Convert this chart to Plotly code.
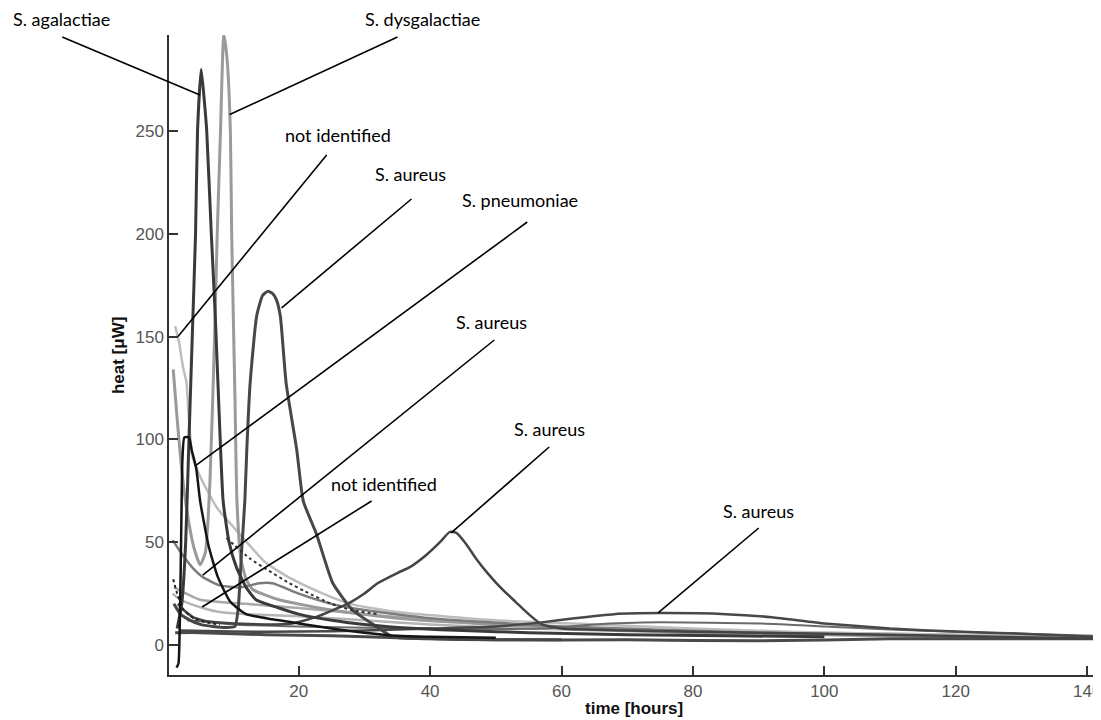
import plotly.graph_objects as go

# ---------------- data ----------------
agal_x = [1.5, 2.2, 2.8, 3.3, 3.8, 4.3, 4.6, 5.15, 5.6, 6.0, 6.7, 7.3, 7.9, 8.5, 9.4, 10.5, 12, 13.5, 17, 20, 25, 30, 38, 45, 55, 70, 85, 100]
agal_y = [8, 20, 50, 100, 150, 200, 250, 280, 266, 250, 200, 160, 112, 70, 50, 38, 28, 22, 18, 15, 12, 10, 8, 7, 6, 5, 4.5, 4]

dysg_x = [0.9, 1.5, 2.2, 3.0, 4.0, 5.0, 5.8, 6.5, 7.2, 7.6, 8.1, 8.6, 9.1, 9.6, 9.8, 10.3, 10.6, 11.2, 12, 13, 17, 25, 35, 50, 65, 80, 100, 120, 141]
dysg_y = [134, 110, 85, 65, 48, 39, 45, 80, 150, 200, 250, 297, 285, 250, 200, 120, 70, 42, 32, 27, 22, 17, 13, 10, 8, 6, 5, 4, 3.5]

nid1_x = [1.2, 1.8, 2.4, 2.9, 3.3, 3.8, 5.0, 7.5, 11, 15, 19, 23.7, 27.8, 35, 50, 65, 80, 100, 120, 141]
nid1_y = [155, 147, 135, 128, 110, 92, 82, 67, 54, 40, 32, 25, 20, 16, 12, 10, 8, 6, 5, 3.5]

aur1_x = [1.0, 2, 3.5, 5, 7, 9, 10.3, 10.8, 11.3, 11.8, 12.1, 12.6, 13.6, 14.5, 15.3, 16.0, 16.6, 17.2, 18.1, 19.7, 20.7, 22.7, 25.2, 28.2, 31.8, 34.3, 40, 50, 60]
aur1_y = [20, 15, 12, 10, 9, 8.5, 9, 18, 45, 70, 95, 127, 160, 170, 172, 171, 168, 160, 127, 95, 70, 54, 30, 17, 9, 4, 3, 2.5, 2.5]

pneu_x = [1.4, 1.7, 1.9, 2.1, 2.3, 2.6, 3.3, 3.7, 4.4, 5.0, 6.3, 7.7, 9.6, 12, 16, 20, 25, 30, 35, 40, 50]
pneu_y = [-11, -9, 10, 50, 90, 101, 101, 95, 86, 70, 48, 33, 21, 15, 12.5, 10.5, 8, 6, 4.5, 4, 3.5]

aur2_x = [0.8, 2.5, 4.0, 5.4, 8, 11, 14, 16, 20, 25, 30, 40, 60, 90, 120, 141]
aur2_y = [51, 43, 37, 33, 29, 28, 30, 30, 25, 20, 17, 13, 9, 6, 4, 3]

nid2_x = [0.8, 2, 3.5, 5.4, 8, 12, 20, 30, 40, 55, 80, 110, 141]
nid2_y = [25, 22, 20, 18, 16, 15, 14, 12, 10, 8, 6, 4.5, 3.5]

aur3_x = [1.6, 2.5, 3.9, 6, 9, 15, 19, 21, 23, 26, 28, 30, 32, 35, 37, 39.5, 41.5, 43, 44, 45.5, 47, 49, 51, 53, 55, 57, 60, 70, 90, 110, 141]
aur3_y = [20, 17, 13.6, 11.5, 10.7, 10, 10.5, 12, 14, 18, 21, 25, 30, 35, 38, 44, 50, 55, 54.5, 49, 42, 34, 27, 21, 15, 10, 8, 7, 6, 5, 3]

aur4_x = [2, 10, 20, 30, 40, 50, 57, 62, 68, 75, 85, 92, 100, 110, 120, 130, 141]
aur4_y = [7, 6.5, 6.5, 7, 8, 9, 11, 13, 15, 15.5, 15, 13.5, 10.5, 8, 6.5, 5.5, 4]

dot1_x = [0.9, 1.5, 2.5, 4, 6, 8]
dot1_y = [32, 25, 17, 13, 11, 10]

dot2_x = [9, 12.6, 15, 18.6, 21, 25, 28, 32]
dot2_y = [52, 42, 37, 30, 26, 20, 17, 15]

ext1_x = [3, 10, 20, 40, 57, 65, 75, 90, 100, 110, 125, 141]
ext1_y = [12, 10, 9, 8, 8, 10, 11, 10.5, 9, 7.5, 6, 4.5]

ext2_x = [1, 5, 12, 20, 30, 45, 60, 80, 100, 120, 141]
ext2_y = [28, 22, 20, 18, 15, 11, 8, 6.5, 6, 5, 4]

ext3_x = [1.2, 5, 15, 25, 35, 50, 70, 90, 110, 130, 141]
ext3_y = [6, 6, 5, 4.5, 3.5, 2.5, 2.5, 2, 3, 3, 3]

x_ticks = [20, 40, 60, 80, 100, 120, 140]
y_ticks = [0, 50, 100, 150, 200, 250]
x_range = [0.26, 141.8]
y_range = [-14.6, 296.7]

# label texts, anchor point on the curve (data units)
label_text = ["S. agalactiae", "S. dysgalactiae", "not identified", "S. aureus", "S. pneumoniae",
              "S. aureus", "not identified", "S. aureus", "S. aureus"]
label_pt_x = [4.97, 9.5, 1.63, 17.4, 4.4, 5.4, 5.3, 43.2, 74.7]
label_pt_y = [267.5, 258, 150, 164, 87.5, 34, 18.5, 54.5, 15.6]

# ---------------- layout geometry ----------------
OFF = 8                       # page body margin of the html page
W, H = 1101 - OFF, 720 - OFF
ML, MR, MT, MB = 169 - OFF, 0, 35 - OFF, 45
PW, PH = W - ML - MR, H - MT - MB

def px2paper(px, py):
    px -= OFF
    py -= OFF
    return (px - ML) / PW, (H - MB - py) / PH

def data2paper(x, y):
    return ((x - x_range[0]) / (x_range[1] - x_range[0]),
            (y - y_range[0]) / (y_range[1] - y_range[0]))

# text centres and leader start points (page pixels)
label_txt_pos = [(61, 19), (423, 19), (338, 135), (411, 174), (521, 200),
                 (492, 322), (384, 484), (550, 429), (760, 511)]
label_line_start = [(62, 37), (398, 37), (327, 155), (412, 199), (528, 222),
                    (495, 340), (372, 501), (550, 447), (760, 528)]

fig = go.Figure()

traces = [
    (ext2_x, ext2_y, "#a8a8a8", 2.5, "solid"),
    (nid2_x, nid2_y, "#b4b4b4", 2.5, "solid"),
    (nid1_x, nid1_y, "#bdbdbd", 2.5, "solid"),
    (dysg_x, dysg_y, "#9a9a9a", 3, "solid"),
    (aur2_x, aur2_y, "#7c7c7c", 2.5, "solid"),
    (ext1_x, ext1_y, "#6a6a6a", 2, "solid"),
    (ext3_x, ext3_y, "#4a4a4a", 3, "solid"),
    (aur4_x, aur4_y, "#484848", 2.5, "solid"),
    (aur3_x, aur3_y, "#444444", 2.5, "solid"),
    (aur1_x, aur1_y, "#474747", 3, "solid"),
    (agal_x, agal_y, "#3a3a3a", 3, "solid"),
    (dot1_x, dot1_y, "#222222", 2, "dot"),
    (dot2_x, dot2_y, "#333333", 2, "dot"),
    (pneu_x, pneu_y, "#151515", 2.5, "solid"),
]
for xs, ys, col, w, dash in traces:
    fig.add_trace(go.Scatter(x=xs, y=ys, mode="lines",
                             line=dict(color=col, width=w, dash=dash, shape="spline", smoothing=0.5),
                             showlegend=False, hoverinfo="skip"))

shapes = []
annotations = []
for i, t in enumerate(label_text):
    x0, y0 = px2paper(*label_line_start[i])
    x1, y1 = data2paper(label_pt_x[i], label_pt_y[i])
    shapes.append(dict(type="line", xref="paper", yref="paper", x0=x0, y0=y0, x1=x1, y1=y1,
                       line=dict(color="black", width=1.6)))
    tx, ty = px2paper(*label_txt_pos[i])
    annotations.append(dict(text=t, xref="paper", yref="paper", x=tx, y=ty, showarrow=False,
                            xanchor="center", yanchor="middle", borderpad=0,
                            font=dict(family="Lato", size=18, color="black")))

# axis titles
tx, ty = px2paper(635, 708)
annotations.append(dict(text="<b>time [hours]</b>", xref="paper", yref="paper", x=tx, y=ty,
                        showarrow=False, xanchor="center", yanchor="middle",
                        font=dict(family="Liberation Sans", size=17, color="#111")))
tx, ty = px2paper(118, 356)
annotations.append(dict(text="<b>heat [μW]</b>", xref="paper", yref="paper", x=tx, y=ty,
                        showarrow=False, xanchor="center", yanchor="middle", textangle=-90,
                        font=dict(family="Liberation Sans", size=17, color="#111")))

axis_common = dict(showline=True, linecolor="#333", linewidth=1.5, ticks="inside", ticklen=9,
                   tickcolor="#333", tickwidth=1.5, showgrid=False, zeroline=False,
                   ticklabeloverflow="allow",
                   tickfont=dict(family="Liberation Sans", size=17, color="#555"))

fig.update_layout(
    width=W, height=H,
    margin=dict(l=ML, r=MR, t=MT, b=MB),
    paper_bgcolor="white", plot_bgcolor="white",
    xaxis=dict(range=x_range, tickvals=x_ticks, **axis_common),
    yaxis=dict(range=y_range, tickvals=y_ticks, **axis_common),
    shapes=shapes, annotations=annotations,
)

fig.write_html("out.html")
